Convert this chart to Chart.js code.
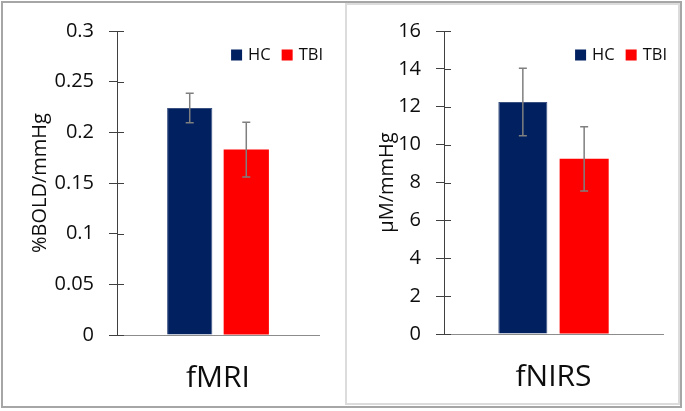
<!DOCTYPE html>
<html>
<head>
<meta charset="utf-8">
<script src="https://cdn.jsdelivr.net/npm/chart.js@4"></script>
<style>
  body { margin: 0; background: #fff; }
  #frame { position: absolute; left: 1px; top: 1px; width: 677px; height: 403px; border: 2px solid #a6a6a6; }
  #rightPanel { position: absolute; left: 345px; top: 3px; width: 331px; height: 398px; border: 2px solid #dcdcdc; }
  canvas { position: absolute; }
</style>
</head>
<body>
<div id="frame"></div>
<div id="rightPanel"></div>
<canvas id="fmriChart" width="336" height="402" style="left:4px;top:4px"></canvas>
<canvas id="fnirsChart" width="332" height="402" style="left:348px;top:4px"></canvas>
<script>
// values
var groups = ['HC', 'TBI'];
var groupColors = ['#002060', '#ff0000'];

var fmriCategory = ['fMRI'];
var fmriValues = [0.224, 0.183];
var fmriErrors = [0.0145, 0.027];
var fmriTicks = [0, 0.05, 0.1, 0.15, 0.2, 0.25, 0.3];

var fnirsCategory = ['fNIRS'];
var fnirsValues = [12.25, 9.25];
var fnirsErrors = [1.78, 1.7];
var fnirsTicks = [0, 2, 4, 6, 8, 10, 12, 14, 16];

Chart.defaults.font.family = "'Open Sans', sans-serif";
Chart.defaults.color = '#0d0d0d';

var errorBars = {
  id: 'errorBars',
  afterDatasetsDraw: function(chart) {
    var ctx = chart.ctx, y = chart.scales.y;
    ctx.save();
    ctx.strokeStyle = '#7f7f7f';
    ctx.lineWidth = 1.5;
    chart.data.datasets.forEach(function(ds, i) {
      chart.getDatasetMeta(i).data.forEach(function(bar, j) {
        var top = y.getPixelForValue(ds.data[j] + ds.errors[j]);
        var bot = y.getPixelForValue(ds.data[j] - ds.errors[j]);
        ctx.beginPath();
        ctx.moveTo(bar.x, top); ctx.lineTo(bar.x, bot);
        ctx.moveTo(bar.x - 4, top); ctx.lineTo(bar.x + 4, top);
        ctx.moveTo(bar.x - 4, bot); ctx.lineTo(bar.x + 4, bot);
        ctx.stroke();
      });
    });
    ctx.restore();
  }
};

// tick marks in the reference cross the axis, draw the inner half
var innerTicks = {
  id: 'innerTicks',
  afterDraw: function(chart) {
    var ctx = chart.ctx, y = chart.scales.y, left = chart.chartArea.left;
    ctx.save();
    ctx.strokeStyle = '#404040';
    ctx.lineWidth = 1;
    y.ticks.forEach(function(t) {
      var py = Math.round(y.getPixelForValue(t.value)) + 0.5;
      ctx.beginPath();
      ctx.moveTo(left, py); ctx.lineTo(left + 7, py);
      ctx.stroke();
    });
    ctx.restore();
  }
};

var cornerLegend = {
  id: 'cornerLegend',
  afterDraw: function(chart) {
    var ctx = chart.ctx, area = chart.chartArea;
    ctx.save();
    ctx.font = "16.5px 'Open Sans', sans-serif";
    ctx.textBaseline = 'middle';
    var sets = chart.data.datasets;
    var total = 0;
    sets.forEach(function(ds, i) {
      total += 11 + 6 + ctx.measureText(ds.label).width + (i < sets.length - 1 ? 11 : 0);
    });
    var x = area.right + 4 - total, yc = 55 - 4;
    sets.forEach(function(ds) {
      ctx.fillStyle = ds.backgroundColor;
      ctx.fillRect(x, yc - 5.5, 11, 11);
      x += 17;
      ctx.fillStyle = '#0d0d0d';
      ctx.fillText(ds.label, x, yc + 0.5);
      x += ctx.measureText(ds.label).width + 11;
    });
    ctx.restore();
  }
};

function makeChart(id, category, values, errors, ticks, yTitle, geom) {
  var datasets = groups.map(function(g, i) {
    return {
      label: g,
      data: [values[i]],
      errors: [errors[i]],
      backgroundColor: groupColors[i],
      borderColor: i === 0 ? '#3a5080' : groupColors[i],
      borderWidth: i === 0 ? 1 : 0,
      categoryPercentage: 0.56,
      barPercentage: 0.8
    };
  });
  return new Chart(document.getElementById(id).getContext('2d'), {
    type: 'bar',
    data: { labels: category, datasets: datasets },
    options: {
      responsive: false,
      animation: false,
      layout: { padding: { left: 0, right: geom.right, top: geom.top, bottom: 0 } },
      plugins: { legend: { display: false }, tooltip: { enabled: false } },
      scales: {
        x: {
          grid: { drawOnChartArea: false, drawTicks: false },
          border: { color: '#8c8c8c', width: 1 },
          ticks: { font: { size: 30 }, color: '#0d0d0d', padding: 25 },
          afterFit: function(s) { s.height = geom.xh; }
        },
        y: {
          min: ticks[0],
          max: ticks[ticks.length - 1],
          afterBuildTicks: function(s) { s.ticks = ticks.map(function(v) { return { value: v }; }); },
          grid: { drawOnChartArea: false, tickLength: 8, tickColor: '#404040' },
          border: { color: '#404040', width: 1 },
          ticks: { font: { size: 20 }, color: '#0d0d0d', padding: 15,
                   callback: function(v) { return String(v); } },
          title: { display: true, text: yTitle, font: { size: 20 }, color: '#0d0d0d', padding: { top: geom.titlePad, bottom: 0 } },
          afterFit: function(s) { s.width = geom.left; }
        }
      }
    },
    plugins: [errorBars, innerTicks, cornerLegend]
  });
}

makeChart('fmriChart', fmriCategory, fmriValues, fmriErrors, fmriTicks, '%BOLD/mmHg',
  { left: 113, right: 21, top: 22, xh: 71, titlePad: 24 });
makeChart('fnirsChart', fnirsCategory, fnirsValues, fnirsErrors, fnirsTicks, 'μM/mmHg',
  { left: 96, right: 17, top: 21, xh: 72, titlePad: 27 });
</script>
</body>
</html>
